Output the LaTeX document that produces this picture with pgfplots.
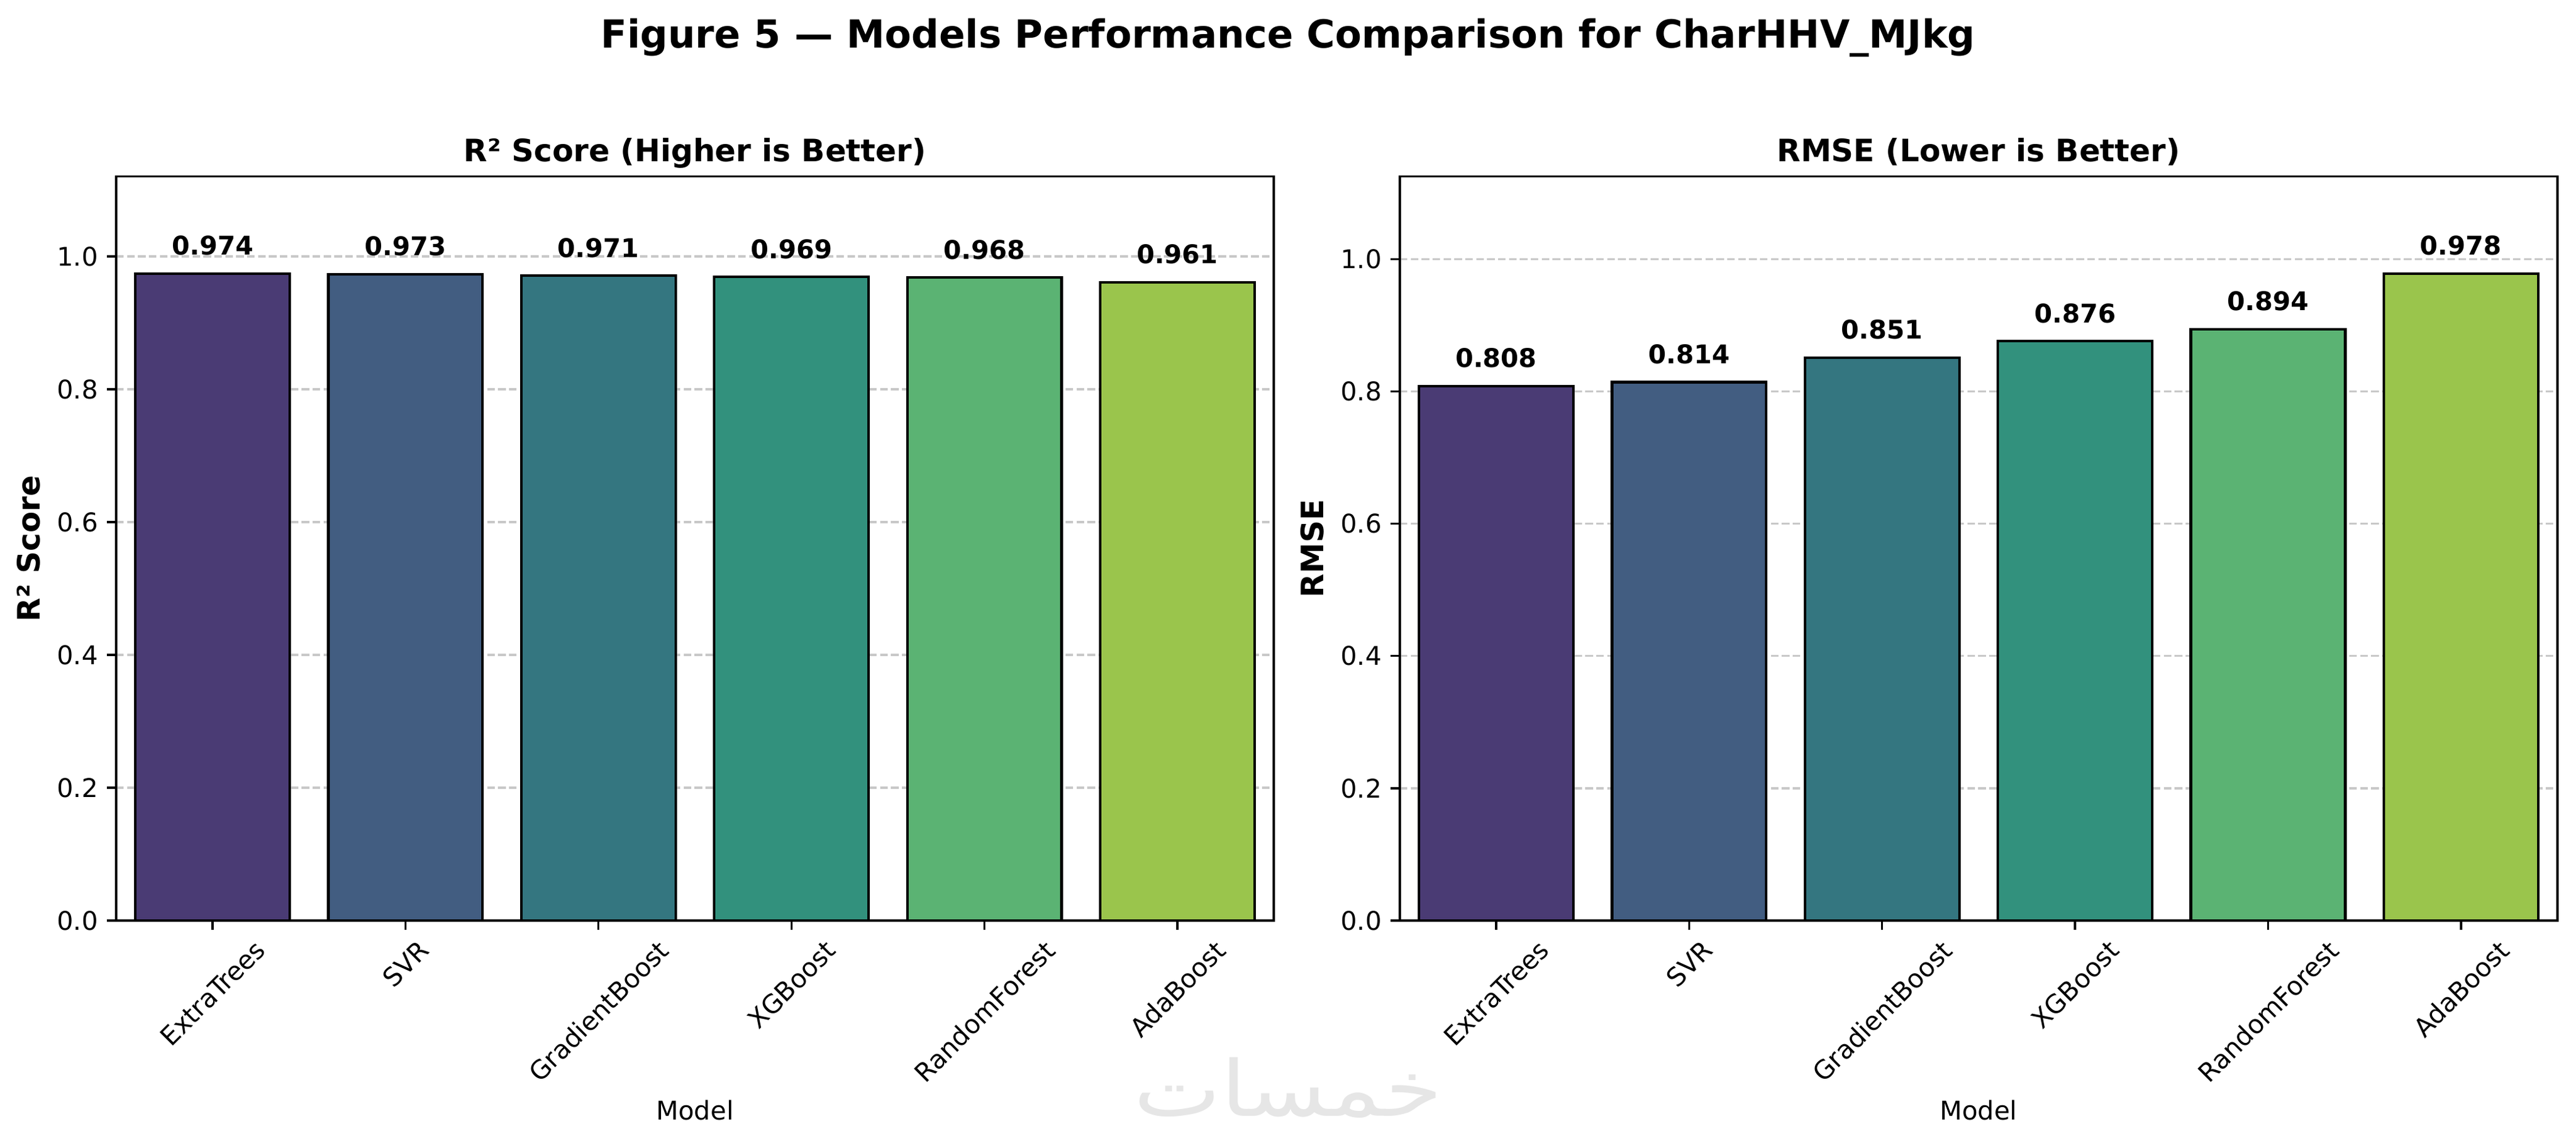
\documentclass[border=0pt]{standalone}
\usepackage{fontspec}
\setmainfont{DejaVu Sans}
\newfontfamily\arabicfont[Script=Arabic]{DejaVu Sans}
\TeXXeTstate=1
\usepackage{graphicx}
\usepackage{pgfplots}
\pgfplotsset{compat=1.18}

\definecolor{c1}{RGB}{74,59,116}
\definecolor{c2}{RGB}{66,93,129}
\definecolor{c3}{RGB}{52,118,128}
\definecolor{c4}{RGB}{50,145,125}
\definecolor{c5}{RGB}{91,179,115}
\definecolor{c6}{RGB}{154,197,76}
\definecolor{gridc}{RGB}{200,200,200}
\definecolor{wm}{RGB}{230,230,230}

\pgfplotsset{
  panel/.style={
    width=449.8pt, height=289.0pt, scale only axis,
    xmin=-0.5, xmax=5.5, ymin=0,
    xtick={0,1,2,3,4,5},
    xticklabels={\rotatebox{45}{ExtraTrees},\rotatebox{45}{SVR},\rotatebox{45}{GradientBoost},\rotatebox{45}{XGBoost},\rotatebox{45}{RandomForest},\rotatebox{45}{AdaBoost}},
    xticklabel style={anchor=north},
    ytick={0,0.2,0.4,0.6,0.8,1.0},
    tick pos=left, tick align=outside, major tick length=3.5pt,
    tick style={black, line width=0.8pt},
    axis line style={line width=0.8pt},
    ymajorgrids, major grid style={gridc, line width=0.8pt, dash pattern=on 2.96pt off 1.28pt},
    tick label style={font=\fontsize{10}{12}\selectfont},
    /pgf/number format/assume math mode=true,
    yticklabel style={/pgf/number format/.cd, fixed, fixed zerofill, precision=1},
    every axis title/.style={at={(axis description cs:0.5,1)}, anchor=base, yshift=5.8pt, font=\bfseries\fontsize{12}{14}\selectfont},
    every axis y label/.style={at={(axis description cs:-0.06559,0.5)}, rotate=90, anchor=base, font=\bfseries\fontsize{12}{14}\selectfont},
    every axis x label/.style={at={(axis description cs:0.5,0)}, anchor=base, yshift=-77.3pt, font=\fontsize{10}{12}\selectfont},
    xlabel={Model},
    point meta=explicit symbolic,
    nodes near coords,
    nodes near coords style={anchor=base, yshift=7.2pt, font=\bfseries\fontsize{10}{12}\selectfont, text=black},
  },
  mybar/.style={ybar, bar width=0.8, bar shift=0pt, draw=black, line width=1pt, fill=#1},
}

\begin{document}
\begin{tikzpicture}
\path[use as bounding box] (0,0) rectangle (1000.8pt,444pt);

\begin{axis}[panel, at={(45.1pt,86.4pt)}, anchor=south west, ymax=1.1201,
  title={R² Score (Higher is Better)}, ylabel={R² Score}]
\addplot[mybar=c1] coordinates {(0,0.974) [0.974]};
\addplot[mybar=c2] coordinates {(1,0.973) [0.973]};
\addplot[mybar=c3] coordinates {(2,0.971) [0.971]};
\addplot[mybar=c4] coordinates {(3,0.969) [0.969]};
\addplot[mybar=c5] coordinates {(4,0.968) [0.968]};
\addplot[mybar=c6] coordinates {(5,0.961) [0.961]};
\end{axis}

\begin{axis}[panel, at={(543.8pt,86.4pt)}, anchor=south west, ymax=1.1247,
  title={RMSE (Lower is Better)}, ylabel={RMSE}]
\addplot[mybar=c1] coordinates {(0,0.808) [0.808]};
\addplot[mybar=c2] coordinates {(1,0.814) [0.814]};
\addplot[mybar=c3] coordinates {(2,0.851) [0.851]};
\addplot[mybar=c4] coordinates {(3,0.876) [0.876]};
\addplot[mybar=c5] coordinates {(4,0.894) [0.894]};
\addplot[mybar=c6] coordinates {(5,0.978) [0.978]};
\end{axis}

\node[anchor=base, font=\bfseries\fontsize{15}{18}\selectfont] at (500.4pt,425.5pt) {Figure 5 — Models Performance Comparison for CharHHV\_MJkg};

\node[text=wm, inner sep=0pt] at (500.4pt,21.4pt) {\resizebox*{120pt}{23.5pt}{\arabicfont\beginR خمسات\endR}};
\end{tikzpicture}
\end{document}
